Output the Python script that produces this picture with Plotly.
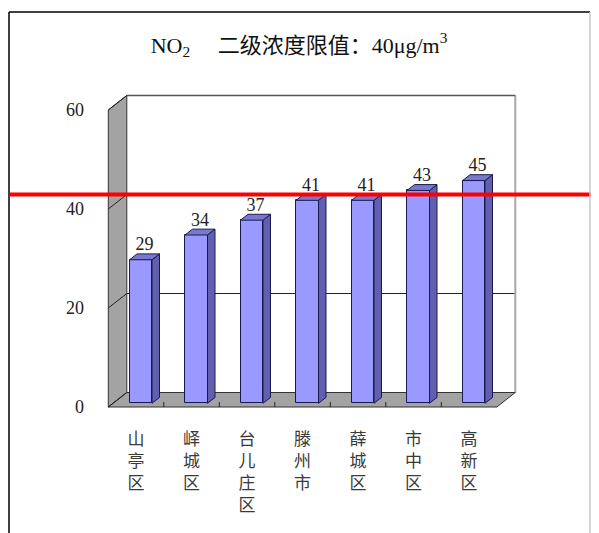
import plotly.graph_objects as go

# ---------------- data ----------------
categories = ["山亭区", "峄城区", "台儿庄区", "滕州市", "薛城区", "市中区", "高新区"]
values = [29, 34, 37, 41, 41, 43, 45]
limit_value = 40
y_ticks = [0, 20, 40, 60]
title_text = "NO<sub>2</sub>&nbsp;&nbsp;&nbsp;&nbsp;&nbsp;二级浓度限值：40μg/m<sup>3</sup>"

# ---------------- geometry (layout only, window pixels) ----------------
W, H = 599, 533
OFF = 8                                  # page body margin
X0, Y0 = 108.3, 407                      # pixel of x=0 / y=0 on the front plane
X_PX = 55.5                              # pixels per category
Y_PX = 4.95                              # pixels per value unit
PL, PR, PT, PB = 104, 530, 85, 411       # plot area (window pixels)
DEPTH_X = 18.5 / X_PX                    # 3D depth offsets in axis units
DEPTH_Y = 14.5 / Y_PX
F1, F2 = 0.255, 0.66                     # bar front/back depth fractions
BAR_W = 0.405
N = len(categories)
YMAX = y_ticks[-1]

SERIF = "Liberation Serif, Noto Sans CJK SC, serif"


def paper_x(px):
    return (px - PL) / (PR - PL)


def paper_y(py):
    return (PB - py) / (PB - PT)


def path(pts):
    return "M " + " L ".join(f"{x},{y}" for x, y in pts) + " Z"


fig = go.Figure()
shapes = []

# back wall
shapes.append(dict(type="path", path=path([(DEPTH_X, DEPTH_Y), (N + DEPTH_X, DEPTH_Y),
                                           (N + DEPTH_X, YMAX + DEPTH_Y), (DEPTH_X, YMAX + DEPTH_Y)]),
                   fillcolor="white", line=dict(width=0), layer="below"))
# horizontal gridlines on back wall
for t in y_ticks[1:-1]:
    shapes.append(dict(type="line", x0=DEPTH_X, x1=N + DEPTH_X, y0=t + DEPTH_Y, y1=t + DEPTH_Y,
                       line=dict(color="#222222", width=1), layer="below"))
# back wall edges
shapes.append(dict(type="line", x0=N + DEPTH_X, x1=N + DEPTH_X, y0=DEPTH_Y, y1=YMAX + DEPTH_Y,
                   line=dict(color="#A8A8A8", width=2), layer="below"))
shapes.append(dict(type="line", x0=DEPTH_X, x1=N + DEPTH_X, y0=YMAX + DEPTH_Y, y1=YMAX + DEPTH_Y,
                   line=dict(color="#555555", width=1.5), layer="below"))
# left wall
shapes.append(dict(type="path", path=path([(0, 0), (DEPTH_X, DEPTH_Y), (DEPTH_X, YMAX + DEPTH_Y), (0, YMAX)]),
                   fillcolor="#A3A3A3", line=dict(color="#333333", width=1), layer="below"))
# floor
shapes.append(dict(type="path", path=path([(0, 0), (N, 0), (N + DEPTH_X, DEPTH_Y), (DEPTH_X, DEPTH_Y)]),
                   fillcolor="#A3A3A3", line=dict(color="#333333", width=1), layer="below"))
# diagonal gridlines on left wall
for t in y_ticks:
    shapes.append(dict(type="line", x0=0, x1=DEPTH_X, y0=t, y1=t + DEPTH_Y,
                       line=dict(color="#222222", width=1), layer="below"))
# category boundary ticks on floor front edge
for k in range(1, N):
    shapes.append(dict(type="line", x0=k, x1=k, y0=0, y1=5 / Y_PX,
                       line=dict(color="#222222", width=1), layer="below"))

# bars: front faces
centers = [i + 0.5 for i in range(N)]
b1 = F1 * DEPTH_Y
b2 = F2 * DEPTH_Y
ddx = (F2 - F1) * DEPTH_X
fig.add_trace(go.Bar(x=[c + F1 * DEPTH_X for c in centers], y=values, base=b1,
                     width=BAR_W, marker=dict(color="#9999FF", line=dict(color="#1A1A50", width=1)),
                     hoverinfo="skip", showlegend=False))

sx, sy, tx, ty = [], [], [], []
for c, v in zip(centers, values):
    xl = c + F1 * DEPTH_X - BAR_W / 2
    xr = c + F1 * DEPTH_X + BAR_W / 2
    sx += [xr, xr, xr + ddx, xr + ddx, xr, None]
    sy += [b1, v + b1, v + b2, b2, b1, None]
    tx += [xl, xr, xr + ddx, xl + ddx, xl, None]
    ty += [v + b1, v + b1, v + b2, v + b2, v + b1, None]
for xs, ys, col in ((sx, sy, "#6060AE"), (tx, ty, "#7878CF")):
    fig.add_trace(go.Scatter(x=xs, y=ys, mode="lines", fill="toself", fillcolor=col,
                             line=dict(color="#1A1A50", width=1),
                             hoverinfo="skip", showlegend=False))

# value labels
fig.add_trace(go.Scatter(x=[c + (F1 + F2) / 2 * DEPTH_X for c in centers],
                         y=[v + b2 - 1 / Y_PX for v in values], mode="text",
                         text=[str(v) for v in values], textposition="top center",
                         textfont=dict(family=SERIF, size=18, color="#222222"),
                         hoverinfo="skip", showlegend=False, cliponaxis=False))

# limit line (red)
shapes.append(dict(type="line", xref="paper", yref="y",
                   x0=paper_x(10), x1=paper_x(595),
                   y0=limit_value + DEPTH_Y, y1=limit_value + DEPTH_Y,
                   line=dict(color="#FF0000", width=4), layer="above"))

# outer frame
shapes.append(dict(type="line", xref="paper", yref="paper", x0=paper_x(9), x1=paper_x(9),
                   y0=paper_y(12), y1=paper_y(600), line=dict(color="black", width=1.5), layer="above"))
shapes.append(dict(type="line", xref="paper", yref="paper", x0=paper_x(9), x1=paper_x(590),
                   y0=paper_y(12), y1=paper_y(12), line=dict(color="black", width=1.5), layer="above"))
shapes.append(dict(type="line", xref="paper", yref="paper", x0=paper_x(590), x1=paper_x(590),
                   y0=paper_y(12), y1=paper_y(600), line=dict(color="#C8C8C8", width=1.5), layer="above"))

fig.update_layout(
    width=W, height=H,
    margin=dict(l=PL - OFF, r=W - (PR - OFF), t=PT - OFF, b=H - (PB - OFF)),
    paper_bgcolor="white", plot_bgcolor="rgba(0,0,0,0)",
    shapes=shapes,
    title=dict(text=title_text, x=(299 - OFF) / W, xref="container", xanchor="center",
               y=1 - (45 - OFF) / H, yanchor="middle",
               font=dict(family=SERIF, size=22, color="#111111")),
    xaxis=dict(range=[(PL - X0) / X_PX, (PR - X0) / X_PX], showgrid=False, zeroline=False,
               showline=False, tickmode="array", tickvals=centers,
               ticktext=["<br>".join(list(c)) for c in categories],
               ticks="", ticklabelstandoff=16,
               tickfont=dict(family=SERIF, size=17, color="#3A3A3A"),
               fixedrange=True),
    yaxis=dict(range=[-(PB - Y0) / Y_PX, (Y0 - PT) / Y_PX], showgrid=False, zeroline=False,
               showline=False, tickmode="array", tickvals=y_ticks, ticks="", ticklabelstandoff=19,
               tickfont=dict(family=SERIF, size=18, color="#222222"),
               fixedrange=True),
    bargap=0,
)

fig.write_html("out.html")
